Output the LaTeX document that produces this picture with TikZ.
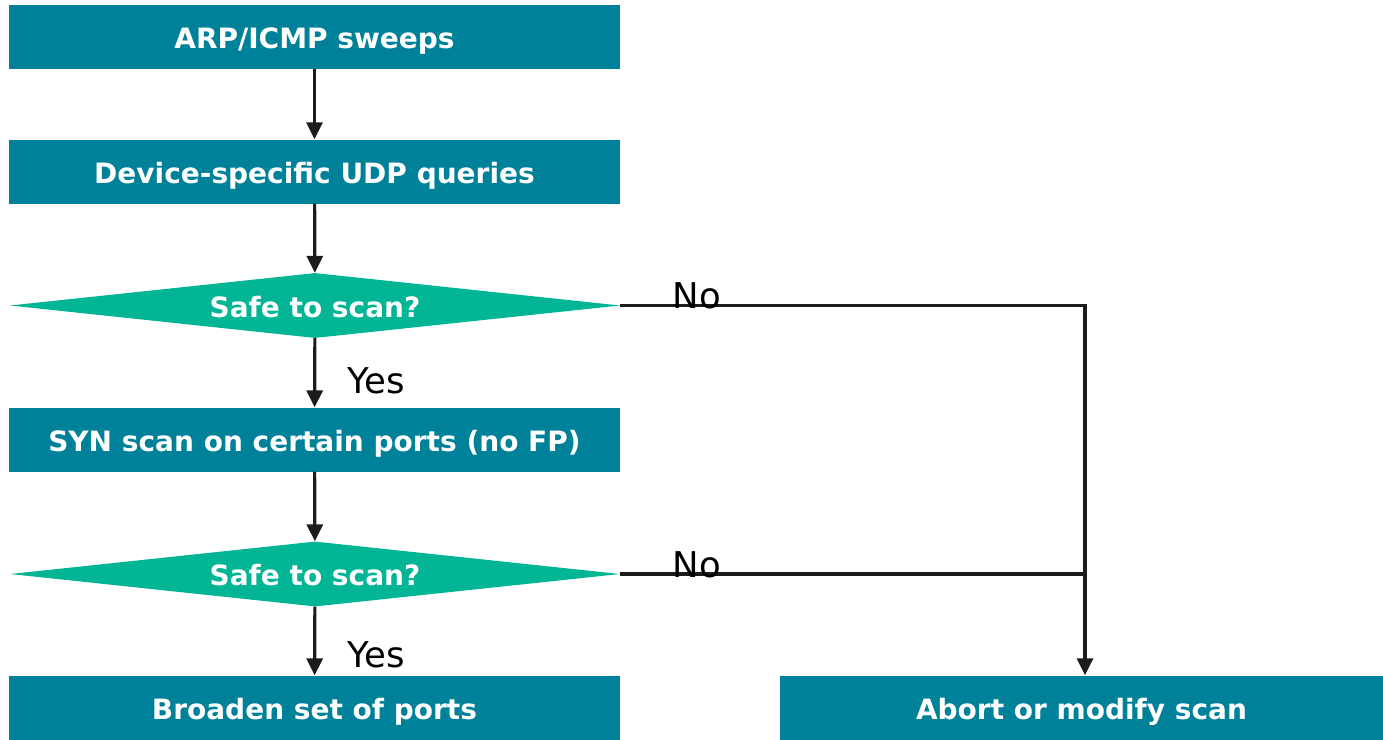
\documentclass[tikz,border=0pt]{standalone}
\usepackage{fontspec}
\setmainfont{DejaVu Sans}
\usetikzlibrary{shapes.geometric,arrows.meta}
\definecolor{stepteal}{HTML}{00819A}
\definecolor{askgreen}{HTML}{02B595}
\definecolor{wire}{HTML}{1C1C1C}
\begin{document}
\begin{tikzpicture}[x=1pt,y=-1pt,
  stepbox/.style={rectangle,fill=stepteal,text=white,inner sep=0pt,
    minimum width=611pt,minimum height=64pt,text height=23pt,text depth=0pt,
    font=\fontsize{28}{34}\selectfont\bfseries},
  askbox/.style={diamond,fill=askgreen,text=white,inner sep=0pt,
    aspect=9.4,minimum width=610pt,minimum height=65pt,text height=23pt,text depth=0pt,
    font=\fontsize{28}{34}\selectfont\bfseries},
  flow/.style={wire,line width=3.2pt,-{Triangle[length=17pt,width=16pt]}},
  plain/.style={wire,line width=3.2pt},
  tag/.style={text=black,inner sep=0pt,font=\fontsize{35.5}{40}\selectfont}]
\useasboundingbox (0,0) rectangle (1383,739);

% process steps and decisions
\node[stepbox] (sweep) at (314.5,37) {ARP/ICMP sweeps};
\node[stepbox] (udp) at (314.5,171.5) {Device-specific UDP queries};
\node[askbox] (safeA) at (315,305.5) {Safe to scan?};
\node[stepbox] (syn) at (314.5,439.5) {SYN scan on certain ports (no FP)};
\node[askbox] (safeB) at (315,574) {Safe to scan?};
\node[stepbox] (broaden) at (314.5,707.5) {Broaden set of ports};
\node[stepbox,minimum width=603pt] (abort) at (1081.5,707.5) {Abort or modify scan};

\coordinate (join) at (1085,305.5);

% main chain
\draw[flow] (sweep) -- (udp);
\draw[flow] (udp) -- (safeA);
\draw[flow] (safeA) -- (syn);
\draw[flow] (syn) -- (safeB);
\draw[flow] (safeB) -- (broaden);
% "No" branches merge into one drop line
\draw[flow] (safeA.east) -- (join) -- (join |- abort.north);
\draw[plain] (safeB.east) -- (safeB.east -| join);

\node[tag,anchor=base west] (noA) at (672.5,308) {No};
\node[tag,anchor=base west] (noB) at (672.5,577) {No};
\node[tag,anchor=base west] (yesA) at (347,393) {Yes};
\node[tag,anchor=base west] (yesB) at (347,667) {Yes};
\end{tikzpicture}
\end{document}
